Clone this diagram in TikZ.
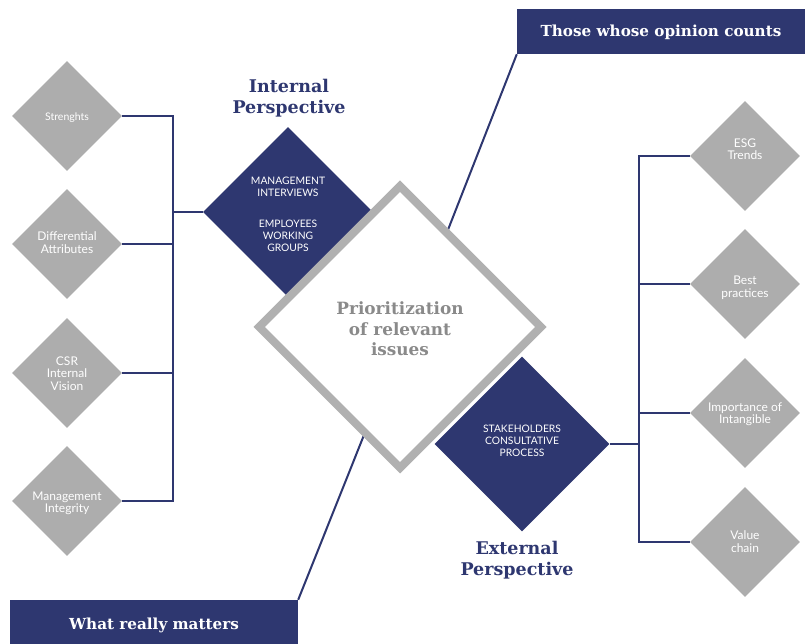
\documentclass[tikz,border=0pt]{standalone}
\usepackage{fontspec}
\setsansfont{Lato}
\newfontfamily\titlefont{DejaVu Serif}
\usetikzlibrary{shapes.geometric}
\definecolor{navy}{HTML}{2E3770}
\definecolor{dgray}{HTML}{ADADAD}
\definecolor{bandgray}{HTML}{B0B0B0}
\definecolor{ctext}{HTML}{8A8A8A}
\begin{document}
\begin{tikzpicture}[x=1pt,y=-1pt,
  graydia/.style={diamond, aspect=1, fill=dgray, inner sep=0pt, minimum size=110},
  graytxt/.style={text=white, inner sep=0pt, align=center,
    font=\sffamily\fontsize{12}{12.5}\selectfont},
  navydia/.style={diamond, aspect=1, fill=navy, inner sep=0pt},
  navytxt/.style={text=white, inner sep=0pt, align=center,
    font=\sffamily\fontsize{10.3}{12}\selectfont},
  bus/.style={draw=navy, line width=1.2pt},
  spoke/.style={draw=navy, line width=2pt},
  banner/.style={fill=navy, text=white, inner sep=0pt, minimum width=288,
    font=\titlefont\bfseries\fontsize{15.2}{18}\selectfont},
  heading/.style={text=navy, align=center,
    font=\titlefont\bfseries\fontsize{17.5}{21}\selectfont},
  centerdia/.style={diamond, aspect=1, fill=white, draw=bandgray, line width=8pt,
    inner sep=0pt, minimum size=285},
  centertxt/.style={text=ctext, align=center, inner sep=0pt,
    font=\titlefont\bfseries\fontsize{16.9}{20.5}\selectfont},
]
\useasboundingbox (0,0) rectangle (807,644);

% banners
\node[banner, minimum height=45, text height=11.4pt, text depth=2pt] (topban) at (661,31.5) {Those whose opinion counts};
\node[banner, minimum height=44, text height=16pt, text depth=2pt] (botban) at (154,622) {What really matters};

% left gray diamonds
\node[graydia] (s1) at (67,116) {};
\node[graydia] (s2) at (67,244) {};
\node[graydia] (s3) at (67,373) {};
\node[graydia] (s4) at (67,501) {};
\node[graytxt, font=\sffamily\fontsize{10.5}{12}\selectfont] (s1t) at ([yshift=-2pt]s1.center) {Strenghts};
\node[graytxt] (s2t) at ([yshift=1.5pt]s2.center) {Differential\\Attributes};
\node[graytxt] (s3t) at ([yshift=-0.5pt]s3.center) {CSR\\Internal\\Vision};
\node[graytxt] (s4t) at ([yshift=-2.5pt]s4.center) {Management\\Integrity};

% right gray diamonds
\node[graydia] (r1) at (745,156) {};
\node[graydia] (r2) at (745,284) {};
\node[graydia] (r3) at (745,413) {};
\node[graydia] (r4) at (745,542) {};
\node[graytxt] (r1t) at ([yshift=7pt]r1.center) {ESG\\Trends};
\node[graytxt] (r2t) at ([yshift=-3.5pt]r2.center) {Best\\practices};
\node[graytxt] (r3t) at ([yshift=-1pt]r3.center) {Importance of\\Intangible};
\node[graytxt] (r4t) at ([yshift=0.5pt]r4.center) {Value\\chain};

% navy diamonds
\node[navydia, minimum size=170] (int) at (288,212) {};
\node[navydia, minimum size=175] (ext) at (522,444) {};
\node[navytxt] (intt) at ([yshift=-2.5pt]int.center) {MANAGEMENT\\INTERVIEWS\\[18.5pt]EMPLOYEES\\WORKING\\GROUPS};
\node[navytxt] (extt) at ([yshift=3pt]ext.center) {STAKEHOLDERS\\CONSULTATIVE\\PROCESS};

% bus connectors
\coordinate (lbus) at (173,212);
\coordinate (rbus) at (639,444);
\draw[bus] (s1.east) -| (lbus);
\draw[bus] (s2.east) -| (lbus);
\draw[bus] (s3.east) -| (lbus);
\draw[bus] (s4.east) -| (lbus);
\draw[bus] (lbus) -- (int.west);
\draw[bus] (r1.west) -| (rbus);
\draw[bus] (r2.west) -| (rbus);
\draw[bus] (r3.west) -| (rbus);
\draw[bus] (r4.west) -| (rbus);
\draw[bus] (rbus) -- (ext.east);

% spokes to banners (ends hidden under central diamond)
\coordinate (sp1) at (444,240);
\coordinate (sp2) at (368,425);
\draw[spoke] (topban.south west) -- (sp1);
\draw[spoke] (botban.north east) -- (sp2);

% central diamond
\node[centerdia] (center) at (400,327) {};
\node[centertxt] (centert) at ([yshift=-2pt]center.center) {Prioritization\\of relevant\\issues};

% headings
\node[heading] (inthead) at (289,98.5) {Internal\\Perspective};
\node[heading] (exthead) at (517,560.5) {External\\Perspective};
\end{tikzpicture}
\end{document}
